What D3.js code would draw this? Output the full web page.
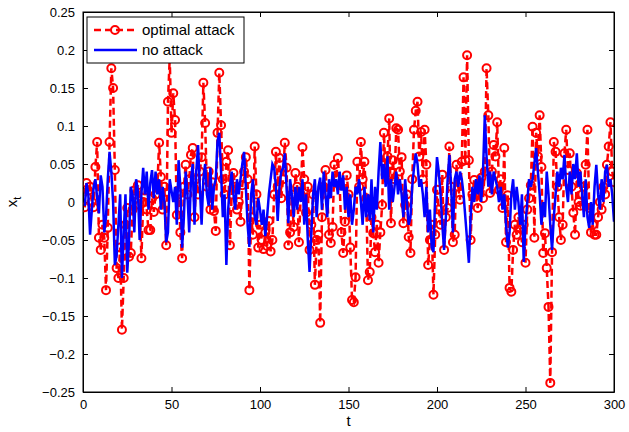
<!DOCTYPE html>
<html lang="en">
<head>
    <meta charset="UTF-8">
    <title>optimal attack vs no attack</title>
    <script src="https://d3js.org/d3.v7.min.js"></script>
    <style>
        body { margin: 0; background: #fff; }
        text { font-family: "Liberation Sans", Arial, sans-serif; }
    </style>
</head>
<body>
<script>
    // values, t = 1..300
    var attack = [
        -0.007, 0.025, 0.015, 0.020, 0.000, -0.007, 0.046, 0.079, -0.047, -0.063,
        -0.030, -0.047, -0.116, -0.034, 0.079, 0.176, 0.150, 0.042, -0.087, -0.100,
        -0.060, -0.168, -0.100, -0.030, -0.008, -0.072, -0.067, -0.010, 0.015, 0.010,
        0.022, -0.004, -0.074, 0.000, 0.015, -0.010, -0.037, -0.037, 0.005, -0.013,
        0.010, 0.020, 0.078, 0.033, -0.010, 0.020, -0.057, 0.132, 0.190, 0.091,
        0.143, 0.108, -0.017, 0.010, -0.040, -0.074, 0.020, 0.049, 0.010, 0.030,
        0.062, 0.071, -0.020, 0.030, 0.010, 0.040, 0.059, 0.157, 0.104, 0.020,
        0.040, -0.010, 0.026, -0.012, -0.038, 0.091, 0.170, 0.101, 0.030, 0.010,
        0.053, 0.068, -0.057, 0.010, 0.038, 0.020, -0.010, 0.000, -0.026, 0.022,
        0.040, 0.059, 0.030, -0.116, -0.020, -0.043, 0.073, 0.010, -0.060, -0.030,
        -0.050, -0.062, -0.040, -0.058, -0.025, -0.065, -0.050, 0.010, 0.066, 0.020,
        0.058, 0.005, 0.030, 0.078, 0.045, -0.057, -0.040, 0.010, -0.033, 0.038,
        0.020, -0.053, 0.010, 0.072, 0.030, -0.014, 0.020, -0.063, -0.030, 0.010,
        -0.109, -0.050, -0.043, -0.159, -0.020, 0.020, 0.042, 0.010, -0.043, -0.054,
        -0.033, 0.049, 0.030, 0.058, 0.022, -0.040, -0.067, -0.026, 0.035, 0.010,
        -0.060, -0.129, -0.132, -0.099, 0.053, 0.020, 0.079, 0.030, 0.053, 0.005,
        -0.103, -0.092, -0.020, -0.041, -0.066, -0.030, -0.080, -0.040, -0.004, 0.091,
        0.036, 0.060, 0.110, -0.028, 0.055, 0.030, 0.097, 0.095, 0.040, 0.059,
        -0.028, -0.004, 0.010, -0.046, -0.067, 0.030, 0.095, 0.120, 0.132, 0.060,
        0.092, 0.030, 0.095, 0.049, -0.083, -0.050, -0.030, -0.122, -0.043, 0.016,
        -0.010, -0.030, 0.036, -0.063, -0.020, -0.008, 0.073, 0.020, -0.053, -0.043,
        0.049, 0.020, 0.003, 0.053, 0.164, 0.055, 0.193, 0.055, -0.050, 0.010,
        0.029, 0.010, -0.008, 0.020, 0.032, 0.005, 0.040, 0.176, 0.114, 0.012,
        0.040, 0.075, 0.060, 0.105, 0.016, 0.030, -0.008, 0.071, -0.053, 0.009,
        -0.113, -0.118, -0.063, -0.030, -0.043, -0.020, -0.035, -0.053, -0.030, -0.080,
        -0.010, 0.005, 0.022, 0.099, -0.047, 0.091, 0.060, 0.114, 0.046, -0.067,
        -0.041, -0.087, -0.138, -0.238, -0.066, 0.079, 0.066, 0.020, -0.020, -0.050,
        -0.030, 0.064, 0.095, 0.042, 0.064, 0.020, -0.014, -0.043, 0.038, 0.000,
        -0.005, 0.010, 0.020, 0.049, 0.095, -0.008, -0.040, -0.030, -0.043, -0.043,
        -0.020, 0.000, -0.010, 0.020, 0.010, 0.049, 0.073, 0.105, 0.040, 0.026
    ];

    var noAttack = [
        -0.005, 0.025, 0.010, -0.043, -0.010, 0.020, 0.030, 0.005, -0.015, 0.035,
        0.020, -0.040, -0.020, 0.030, 0.066, 0.040, 0.000, -0.083, -0.070, -0.030,
        0.010, -0.100, -0.040, 0.010, -0.093, -0.050, 0.020, 0.010, -0.040, 0.030,
        0.015, -0.050, 0.010, 0.045, 0.010, 0.040, -0.010, 0.025, 0.042, 0.005,
        0.040, 0.010, 0.030, -0.010, 0.020, 0.000, -0.053, -0.040, 0.030, 0.015,
        0.000, 0.020, -0.030, 0.055, 0.020, -0.060, -0.020, 0.040, 0.010, -0.040,
        0.030, 0.050, -0.030, 0.040, 0.075, 0.020, -0.030, 0.030, 0.050, 0.010,
        -0.005, 0.045, -0.010, 0.020, 0.030, 0.080, 0.091, 0.040, -0.020, 0.010,
        -0.083, -0.010, 0.020, 0.040, 0.010, -0.010, 0.030, 0.010, 0.030, 0.050,
        0.066, 0.020, -0.030, -0.059, 0.010, 0.030, -0.020, -0.030, 0.005, -0.010,
        -0.030, -0.010, -0.045, -0.020, 0.010, 0.030, 0.050, 0.045, 0.020, -0.025,
        0.020, 0.040, 0.045, 0.064, 0.020, -0.028, 0.030, 0.010, -0.020, 0.020,
        -0.010, 0.020, 0.000, 0.030, -0.030, 0.010, -0.050, -0.092, -0.040, 0.010,
        0.030, -0.020, 0.020, 0.032, -0.010, 0.040, 0.010, -0.020, 0.030, 0.005,
        0.040, 0.020, 0.030, 0.010, 0.040, 0.015, 0.035, -0.010, 0.020, -0.020,
        0.010, -0.030, -0.010, 0.020, 0.010, 0.030, 0.000, -0.030, 0.020, -0.020,
        0.010, -0.024, 0.030, -0.040, 0.020, -0.010, 0.040, 0.079, 0.030, 0.050,
        0.020, 0.060, -0.010, 0.030, 0.000, 0.020, 0.040, 0.010, 0.030, 0.010,
        -0.020, 0.030, 0.000, -0.030, -0.020, 0.020, 0.045, 0.064, 0.050, 0.020,
        0.030, 0.010, -0.020, 0.020, -0.040, -0.010, -0.060, -0.066, 0.010, 0.059,
        0.040, 0.010, -0.030, -0.063, -0.020, 0.030, 0.062, 0.020, -0.040, 0.030,
        0.040, 0.020, 0.040, 0.030, 0.010, -0.020, -0.050, -0.080, -0.020, 0.020,
        0.000, 0.030, 0.010, 0.035, 0.000, 0.040, 0.114, 0.060, 0.020, 0.040,
        0.010, 0.040, 0.030, 0.020, 0.000, 0.020, -0.010, 0.010, -0.030, -0.060,
        -0.040, 0.010, 0.030, -0.010, 0.020, 0.000, -0.030, 0.010, -0.079, -0.030,
        0.000, 0.030, 0.020, 0.030, 0.050, 0.071, 0.040, 0.010, -0.030, 0.000,
        -0.020, 0.040, 0.010, -0.030, -0.063, -0.020, 0.010, 0.040, 0.020, 0.045,
        0.030, 0.062, 0.020, 0.000, 0.040, 0.010, 0.050, 0.030, 0.064, 0.020,
        0.040, 0.010, -0.020, 0.030, -0.020, -0.034, 0.000, -0.030, 0.020, 0.049,
        0.010, -0.010, 0.030, 0.000, 0.040, 0.049, 0.020, 0.030, 0.010, -0.026
    ];

    var xTicks = [0, 50, 100, 150, 200, 250, 300];
    var yTicks = [-0.25, -0.2, -0.15, -0.1, -0.05, 0, 0.05, 0.1, 0.15, 0.2, 0.25];
    var legendLabels = ["optimal attack", "no attack"];

    var width = 629, height = 432;
    var margin = {top: 12, right: 15, bottom: 40, left: 83};

    var svg = d3.select("body").append("svg")
        .attr("width", width)
        .attr("height", height)

    var x_scale = d3.scaleLinear()
        .domain([0, 300])
        .range([margin.left, width - margin.right])

    var y_scale = d3.scaleLinear()
        .domain([-0.25, 0.25])
        .range([height - margin.bottom, margin.top])

    svg.append("clipPath").attr("id", "clip")
        .append("rect")
        .attr("x", margin.left)
        .attr("y", margin.top)
        .attr("width", x_scale(300) - x_scale(0))
        .attr("height", y_scale(-0.25) - y_scale(0.25))

    var tickLen = 5;
    var fmt = function (d) { return d3.format("")(+d.toFixed(2)) };

    // axes, matlab style: ticks inside on every side
    svg.append("g")
        .attr("transform", "translate(0," + y_scale(-0.25) + ")")
        .call(d3.axisBottom(x_scale).tickValues(xTicks).tickSizeInner(-tickLen).tickSizeOuter(0).tickPadding(8))
    svg.append("g")
        .attr("transform", "translate(0," + y_scale(0.25) + ")")
        .call(d3.axisTop(x_scale).tickValues(xTicks).tickSizeInner(-tickLen).tickSizeOuter(0).tickFormat(""))
    svg.append("g")
        .attr("transform", "translate(" + x_scale(0) + ",0)")
        .call(d3.axisLeft(y_scale).tickValues(yTicks).tickSizeInner(-tickLen).tickSizeOuter(0).tickPadding(8).tickFormat(fmt))
    svg.append("g")
        .attr("transform", "translate(" + x_scale(300) + ",0)")
        .call(d3.axisRight(y_scale).tickValues(yTicks).tickSizeInner(-tickLen).tickSizeOuter(0).tickFormat(""))

    svg.selectAll(".tick text")
        .attr("font-size", 13)
        .attr("font-family", "Liberation Sans, Arial, sans-serif")
        .attr("fill", "#000")
    svg.selectAll(".domain").attr("stroke", "#000")

    var line = d3.line()
        .x(function (d, i) { return x_scale(i + 1) })
        .y(function (d) { return y_scale(d) })

    var plot = svg.append("g").attr("clip-path", "url(#clip)")

    plot.append("path")
        .attr("d", line(attack))
        .attr("fill", "none")
        .attr("stroke", "#ff0000")
        .attr("stroke-width", 2.5)
        .attr("stroke-dasharray", "7,4")

    plot.selectAll("circle.atk")
        .data(attack)
        .enter().append("circle")
        .attr("class", "atk")
        .attr("cx", function (d, i) { return x_scale(i + 1) })
        .attr("cy", function (d) { return y_scale(d) })
        .attr("r", 4)
        .attr("fill", "none")
        .attr("stroke", "#ff0000")
        .attr("stroke-width", 2)

    plot.append("path")
        .attr("d", line(noAttack))
        .attr("fill", "none")
        .attr("stroke", "#0000ff")
        .attr("stroke-width", 2.5)

    // box
    svg.append("rect")
        .attr("x", x_scale(0))
        .attr("y", y_scale(0.25))
        .attr("width", x_scale(300) - x_scale(0))
        .attr("height", y_scale(-0.25) - y_scale(0.25))
        .attr("fill", "none")
        .attr("stroke", "#000")

    // axis labels
    svg.append("text")
        .attr("x", (x_scale(0) + x_scale(300)) / 2)
        .attr("y", height - 6)
        .attr("text-anchor", "middle")
        .attr("font-size", 15)
        .text("t")

    var yl = svg.append("text")
        .attr("transform", "translate(17," + y_scale(0) + ") rotate(-90)")
        .attr("text-anchor", "middle")
        .attr("font-size", 15)
    yl.append("tspan").text("x")
    yl.append("tspan").attr("font-size", 11).attr("dy", 4).text("t")

    // legend
    var lg = svg.append("g").attr("transform", "translate(87,17)")
    lg.append("rect")
        .attr("width", 157)
        .attr("height", 46)
        .attr("fill", "#fff")
        .attr("stroke", "#000")

    lg.append("line")
        .attr("x1", 7).attr("x2", 50).attr("y1", 13).attr("y2", 13)
        .attr("stroke", "#ff0000").attr("stroke-width", 2.5).attr("stroke-dasharray", "7,4")
    lg.append("circle")
        .attr("cx", 28).attr("cy", 13).attr("r", 4)
        .attr("fill", "none").attr("stroke", "#ff0000").attr("stroke-width", 2)
    lg.append("line")
        .attr("x1", 7).attr("x2", 50).attr("y1", 33).attr("y2", 33)
        .attr("stroke", "#0000ff").attr("stroke-width", 2.5)

    lg.selectAll("text.lab")
        .data(legendLabels)
        .enter().append("text")
        .attr("class", "lab")
        .attr("x", 55)
        .attr("y", function (d, i) { return 18 + i * 20 })
        .attr("font-size", 15)
        .text(function (d) { return d })
</script>
</body>
</html>
